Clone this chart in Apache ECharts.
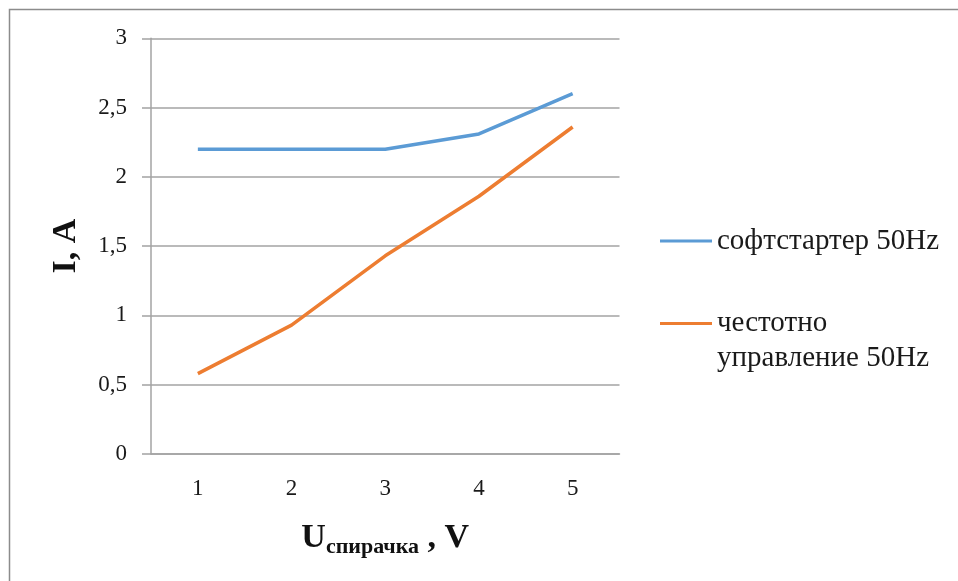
<!DOCTYPE html>
<html>
<head>
<meta charset="utf-8">
<script src="https://cdn.jsdelivr.net/npm/echarts@6/dist/echarts.min.js"></script>
<style>
  html, body { margin: 0; padding: 0; background: #fff; }
  #chart { width: 958px; height: 581px; }
</style>
</head>
<body>
<div id="chart"></div>
<script>
// Voltage steps on the horizontal axis
const categories = ['1', '2', '3', '4', '5'];
// Current, A — soft starter at 50 Hz
const softStarter = [2.2, 2.2, 2.2, 2.31, 2.6];
// Current, A — frequency control at 50 Hz
const freqControl = [0.58, 0.93, 1.43, 1.86, 2.36];
// Value-axis tick labels use a decimal comma
const yTickFormat = v => String(v).replace('.', ',');

const serif = '"Liberation Serif", "Times New Roman", serif';
const gridColor = '#a3a3a3';
const textColor = '#1a1a1a';

const chart = echarts.init(document.getElementById('chart'), null, { renderer: 'canvas' });

chart.setOption({
  animation: false,
  backgroundColor: '#fff',
  textStyle: { fontFamily: serif },
  graphic: [{
    type: 'rect',
    left: 7, top: 7,
    shape: { width: 1200, height: 900 },
    style: { fill: 'none', stroke: '#8c8c8c', lineWidth: 1.5 },
    silent: true, z: -1
  }],
  grid: { left: 151, right: 338.5, top: 38.3, bottom: 127, containLabel: false },
  legend: [{
    data: ['софтстартер 50Hz'],
    left: 655, top: 219,
    orient: 'vertical',
    icon: 'rect', itemWidth: 52, itemHeight: 3, itemGap: 0,
    textStyle: { fontFamily: serif, fontSize: 29, lineHeight: 34, color: textColor, padding: [0, 0, 0, 0] }
  }, {
    data: ['честотно управление 50Hz'],
    left: 655, top: 266,
    orient: 'vertical',
    icon: 'rect', itemWidth: 52, itemHeight: 3, itemGap: 0,
    // leading blank line keeps the first text line level with the swatch
    formatter: () => '\nчестотно\nуправление 50Hz',
    textStyle: { fontFamily: serif, fontSize: 29, lineHeight: 35, color: textColor, padding: [0, 0, 0, 0] }
  }],
  xAxis: {
    type: 'category',
    data: categories,
    boundaryGap: true,
    axisLine: { show: true, lineStyle: { color: gridColor, width: 1.5 } },
    axisTick: { show: false },
    axisLabel: { fontFamily: serif, fontSize: 23, color: textColor, margin: 23 },
    name: '{u|U}{s|спирачка}{u| , V}',
    nameLocation: 'middle',
    nameGap: 64,
    nameTextStyle: {
      rich: {
        u: { fontFamily: serif, fontSize: 34, fontWeight: 'bold', color: '#111' },
        s: { fontFamily: serif, fontSize: 22, fontWeight: 'bold', color: '#111', padding: [18, 0, 0, 0] }
      }
    }
  },
  yAxis: {
    type: 'value',
    min: 0, max: 3, interval: 0.5,
    axisLine: { show: true, lineStyle: { color: gridColor, width: 1.5 } },
    axisTick: { show: true, inside: false, length: 9, lineStyle: { color: gridColor, width: 1.5 } },
    splitLine: { show: true, lineStyle: { color: gridColor, width: 1.5 } },
    axisLabel: { fontFamily: serif, fontSize: 23, color: textColor, margin: 24, formatter: yTickFormat },
    name: 'I, A',
    nameLocation: 'middle',
    nameGap: 68,
    nameTextStyle: { fontFamily: serif, fontSize: 34, fontWeight: 'bold', color: '#111' }
  },
  series: [{
    name: 'софтстартер 50Hz',
    type: 'line',
    data: softStarter,
    symbol: 'none',
    lineStyle: { color: '#5b9bd5', width: 3.5 },
    itemStyle: { color: '#5b9bd5' }
  }, {
    name: 'честотно управление 50Hz',
    type: 'line',
    data: freqControl,
    symbol: 'none',
    lineStyle: { color: '#ed7d31', width: 3.5 },
    itemStyle: { color: '#ed7d31' }
  }]
});
</script>
</body>
</html>
